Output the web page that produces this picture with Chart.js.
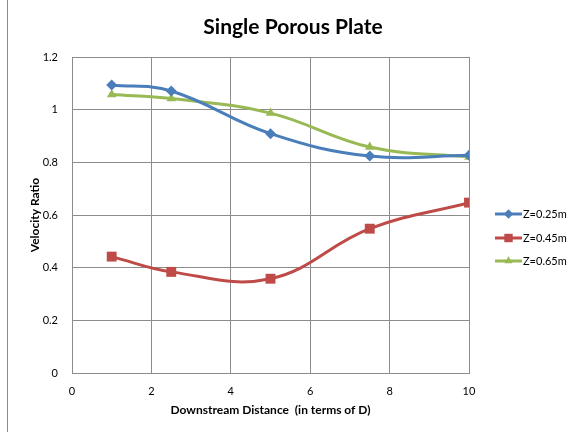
<!DOCTYPE html>
<html>
<head>
<meta charset="utf-8">
<script src="https://cdn.jsdelivr.net/npm/chart.js@4.4.0/dist/chart.umd.min.js"></script>
<style>
  html, body { margin: 0; padding: 0; background: #fff; }
  #wrap { position: relative; width: 577px; height: 432px; }
  #frame { position: absolute; left: 7px; top: 0; width: 1px; height: 432px; background: #8c8c8c; }
</style>
</head>
<body>
<div id="wrap">
  <canvas id="chart" width="577" height="432"></canvas>
  <div id="frame"></div>
</div>
<script>
const distances = [1, 2.5, 5, 7.5, 10];
const z025 = [1.094, 1.071, 0.909, 0.824, 0.827];
const z045 = [0.442, 0.384, 0.358, 0.548, 0.647];
const z065 = [1.058, 1.042, 0.987, 0.858, 0.820];
const seriesNames = ["Z=0.25m", "Z=0.45m", "Z=0.65m"];
const seriesColors = ["#4a7ebb", "#be4b48", "#98b954"];
const seriesMarkers = ["rectRot", "rect", "triangle"];
const markerSizes = [5.5, 7, 5.5];
const xTicks = [0, 2, 4, 6, 8, 10];

const FONT = "Lato, 'Open Sans', sans-serif";

function toPoints(values) {
    return distances.map((x, i) => ({ x: x, y: values[i] }));
}

const datasets = [z025, z045, z065].map((vals, i) => ({
    label: seriesNames[i],
    data: toPoints(vals),
    borderColor: seriesColors[i],
    backgroundColor: seriesColors[i],
    borderWidth: 3,
    tension: 0.4,
    pointStyle: seriesMarkers[i],
    pointRadius: markerSizes[i],
    pointBorderWidth: 0,
    pointHoverRadius: markerSizes[i]
}));

// title and Excel style legend (short line with the marker in the middle)
const extras = {
    id: "extras",
    afterDraw(chart) {
        const c = chart.ctx;
        c.save();
        c.fillStyle = "#000";
        c.font = "bold 21px " + FONT;
        c.textAlign = "center";
        c.textBaseline = "middle";
        c.fillText("Single Porous Plate", 293, 27);

        const x0 = 495, x1 = 522;
        const ys = [214, 238, 261];
        datasets.forEach((ds, i) => {
            const y = ys[i];
            c.strokeStyle = ds.borderColor;
            c.lineWidth = 3;
            c.beginPath();
            c.moveTo(x0, y);
            c.lineTo(x1, y);
            c.stroke();
            c.fillStyle = ds.backgroundColor;
            Chart.helpers.drawPoint(c, { pointStyle: ds.pointStyle, radius: ds.pointRadius * 0.85, borderWidth: 0, rotation: 0 }, (x0 + x1) / 2, y);
            c.fillStyle = "#000";
            c.font = "11px " + FONT;
            c.textBaseline = "middle";
            c.textAlign = "left";
            c.fillText(ds.label, x1 + 1, y);
        });
        c.restore();
    }
};

new Chart(document.getElementById("chart"), {
    type: "line",
    data: { datasets },
    plugins: [extras],
    options: {
        responsive: false,
        animation: false,
        layout: { padding: { left: 24, right: 108, top: 57, bottom: 0 } },
        plugins: {
            legend: { display: false },
            tooltip: { enabled: false },
            title: { display: false }
        },
        scales: {
            x: {
                type: "linear",
                min: 0,
                max: 10,
                afterBuildTicks: s => { s.ticks = xTicks.map(v => ({ value: v })); },
                afterFit: s => { s.height = 59; },
                grid: { color: "#8c8c8c", lineWidth: 1, drawTicks: false },
                border: { color: "#8c8c8c" },
                ticks: { color: "#000", padding: 12, font: { family: FONT, size: 11 } },
                title: {
                    display: true,
                    text: "Downstream Distance  (in terms of D)",
                    color: "#000",
                    font: { family: FONT, size: 12, weight: "bold" },
                    padding: { top: 6, bottom: 15 }
                }
            },
            y: {
                min: 0,
                max: 1.2,
                afterFit: s => { s.width = 48; },
                grid: { color: "#8c8c8c", lineWidth: 1, drawTicks: false },
                border: { color: "#8c8c8c" },
                ticks: {
                    stepSize: 0.2,
                    color: "#000",
                    padding: 14,
                    font: { family: FONT, size: 11 },
                    callback: v => Math.round(v * 10) / 10
                },
                title: {
                    display: true,
                    text: "Velocity Ratio",
                    color: "#000",
                    font: { family: FONT, size: 12, weight: "bold" },
                    padding: { bottom: 3 }
                }
            }
        }
    }
});
</script>
</body>
</html>
